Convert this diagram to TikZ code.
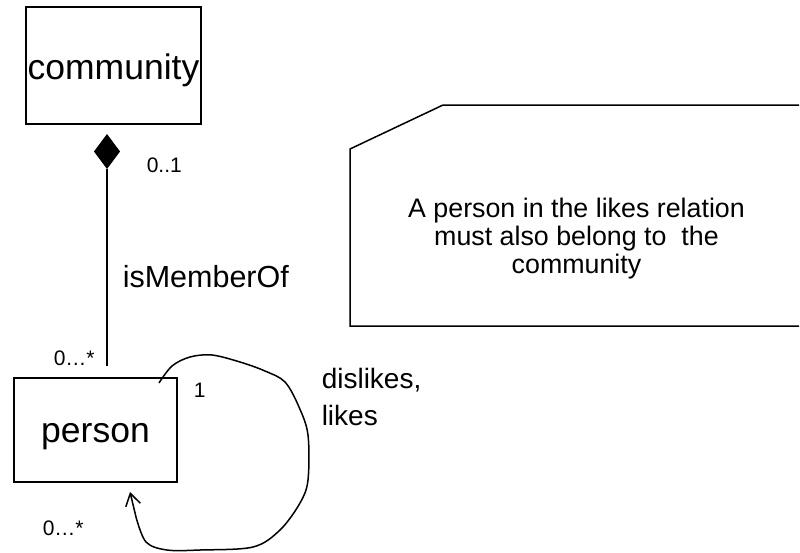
\documentclass[tikz,border=0pt]{standalone}
\usepackage{fontspec}
\setmainfont{Liberation Sans}
\usetikzlibrary{arrows.meta}
\begin{document}
\begin{tikzpicture}[x=1pt,y=-1pt,
  line width=1.5pt,
  classbox/.style={draw, rectangle, inner sep=0pt, font=\fontsize{35.5}{40}\selectfont},
  mult/.style={anchor=base west, inner sep=0pt, font=\fontsize{21}{25}\selectfont},
  rolelabel/.style={anchor=base west, inner sep=0pt, font=\fontsize{28}{37}\selectfont, align=left},
  notetext/.style={inner sep=0pt, align=center, font=\fontsize{26.8}{28}\selectfont}
]
\useasboundingbox[fill=white] (0,0) rectangle (800,552);

% classes
\node[classbox, minimum width=175pt, minimum height=117pt, text height=27pt, text depth=0pt] (community) at (113.5,65.5) {community};
\node[classbox, minimum width=163pt, minimum height=104pt, text height=24pt, text depth=0pt] (person) at (95.5,430) {person};

% composition diamond and association line
\coordinate (dtop) at (107,134);
\coordinate (dbot) at (107,169);
\coordinate (pend) at (107,366);
\fill (dtop) -- (120,151.5) -- (dbot) -- (94,151.5) -- cycle;
\draw (dbot) -- (pend);

\node[mult] (m01) at (146,172) {0..1};
\node[mult] (mtop) at (53,365) {0…*};
\node[anchor=base west, inner sep=0pt, font=\fontsize{30.5}{34}\selectfont] (assoc) at (122,287) {isMemberOf};

% self association loop
\coordinate (ls) at (159,383);
\coordinate (le) at (130,492);
\draw[-{Straight Barb[length=12pt,width=15pt,line width=1.5pt]}, line join=round]
  plot[smooth, tension=0.55] coordinates {(159,383) (172,366) (190,357) (212,355) (240,362) (265,371) (285,382) (299,407) (308,435) (308,480) (300,503) (280,530) (253,547) (200,550) (167,550) (146,542) (136,517)} -- (le);
\node[mult] (m1) at (193,397) {1};
\node[mult] (mbot) at (42,535) {0…*};
\node[rolelabel] (roles) at (321,425) {dislikes,\\likes};

% note
\draw[line join=miter] (799,105) -- (443,105) -- (350,149) -- (350,326) -- (799,326);
\node[notetext] (note) at (576.5,239) {A person in the likes relation\\must also belong to\ \ the\\community};
\end{tikzpicture}
\end{document}
